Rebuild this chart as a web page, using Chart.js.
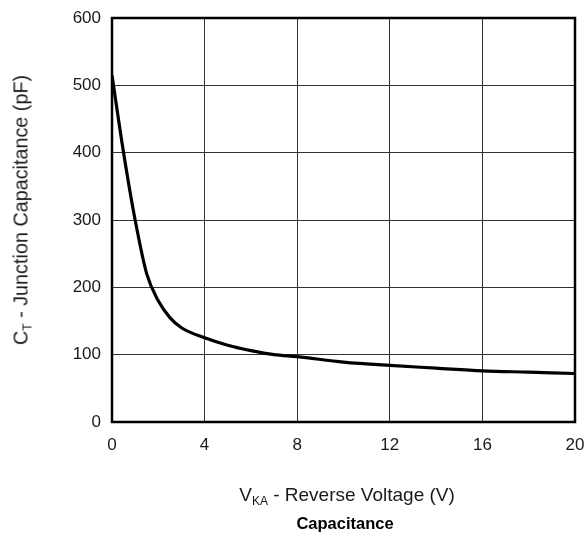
<!DOCTYPE html>
<html>
<head>
<meta charset="utf-8">
<script src="https://cdn.jsdelivr.net/npm/chart.js@4"></script>
<style>
  html, body { margin: 0; padding: 0; background: #fff; }
  #wrap { position: relative; width: 586px; height: 537px; font-family: "Liberation Sans", Arial, sans-serif; color: #1a1a1a; }
  #chart { position: absolute; left: 0; top: 0; }
  .lbl { position: absolute; white-space: nowrap; }
  .lbl sub { font-size: 12px; vertical-align: -4px; }
  #ytitle { left: 22px; top: 210px; font-size: 19.8px; transform: translate(-50%, -50%) rotate(-90deg); }
  #xtitle { left: 347px; top: 496px; font-size: 19px; transform: translate(-50%, -50%); }
  #caption { left: 345px; top: 523px; transform: translate(-50%, -50%); font-weight: bold; font-size: 16.5px; color: #000; }
</style>
</head>
<body>
<div id="wrap">
  <canvas id="chart" width="586" height="537"></canvas>
  <div class="lbl" id="ytitle">C<sub>T</sub> - Junction Capacitance (pF)</div>
  <div class="lbl" id="xtitle">V<sub>KA</sub> - Reverse Voltage (V)</div>
  <div class="lbl" id="caption">Capacitance</div>
</div>
<script>
// reverse voltage (V) and junction capacitance (pF)
const voltage = [0, 0.5, 1, 1.5, 2, 2.5, 3, 4, 5, 6, 7, 8, 10, 12, 14, 16, 18, 20];
const capacitance = [515, 400, 300, 220, 180, 155, 140, 125, 114, 106, 100, 97, 89, 84, 80, 76, 74, 72];

const xTicks = [0, 4, 8, 12, 16, 20];
const yTicks = [0, 100, 200, 300, 400, 500, 600];

const points = voltage.map((v, i) => ({ x: v, y: capacitance[i] }));

// thick frame round the plot area
const frame = {
    id: 'frame',
    afterDraw(chart) {
        const a = chart.chartArea;
        const ctx = chart.ctx;
        ctx.save();
        ctx.strokeStyle = '#000';
        ctx.lineWidth = 2.5;
        ctx.strokeRect(a.left, a.top, a.right - a.left, a.bottom - a.top);
        ctx.restore();
    }
};

const tickFont = { family: '"Liberation Sans", Arial, sans-serif', size: 17 };

new Chart(document.getElementById('chart').getContext('2d'), {
    type: 'line',
    data: {
        datasets: [{
            data: points,
            borderColor: '#000',
            borderWidth: 3.2,
            pointRadius: 0,
            fill: false,
            cubicInterpolationMode: 'monotone'
        }]
    },
    options: {
        responsive: false,
        animation: false,
        layout: { padding: { top: 18, right: 11, left: 0, bottom: 0 } },
        plugins: { legend: { display: false }, tooltip: { enabled: false } },
        scales: {
            x: {
                type: 'linear',
                min: 0,
                max: 20,
                afterBuildTicks: scale => { scale.ticks = xTicks.map(v => ({ value: v })); },
                afterFit: scale => {
                    scale.height = 115;
                    scale.paddingLeft = 0;
                    scale.paddingRight = 0;
                },
                ticks: { color: '#1a1a1a', font: tickFont, padding: 13, maxRotation: 0 },
                grid: { color: '#333', lineWidth: 1, drawTicks: false },
                border: { display: false }
            },
            y: {
                type: 'linear',
                min: 0,
                max: 600,
                afterBuildTicks: scale => { scale.ticks = yTicks.map(v => ({ value: v })); },
                afterFit: scale => {
                    scale.width = 112;
                    scale.paddingTop = 0;
                    scale.paddingBottom = 0;
                },
                ticks: { color: '#1a1a1a', font: tickFont, padding: 11 },
                grid: { color: '#333', lineWidth: 1, drawTicks: false },
                border: { display: false }
            }
        }
    },
    plugins: [frame]
});
</script>
</body>
</html>
